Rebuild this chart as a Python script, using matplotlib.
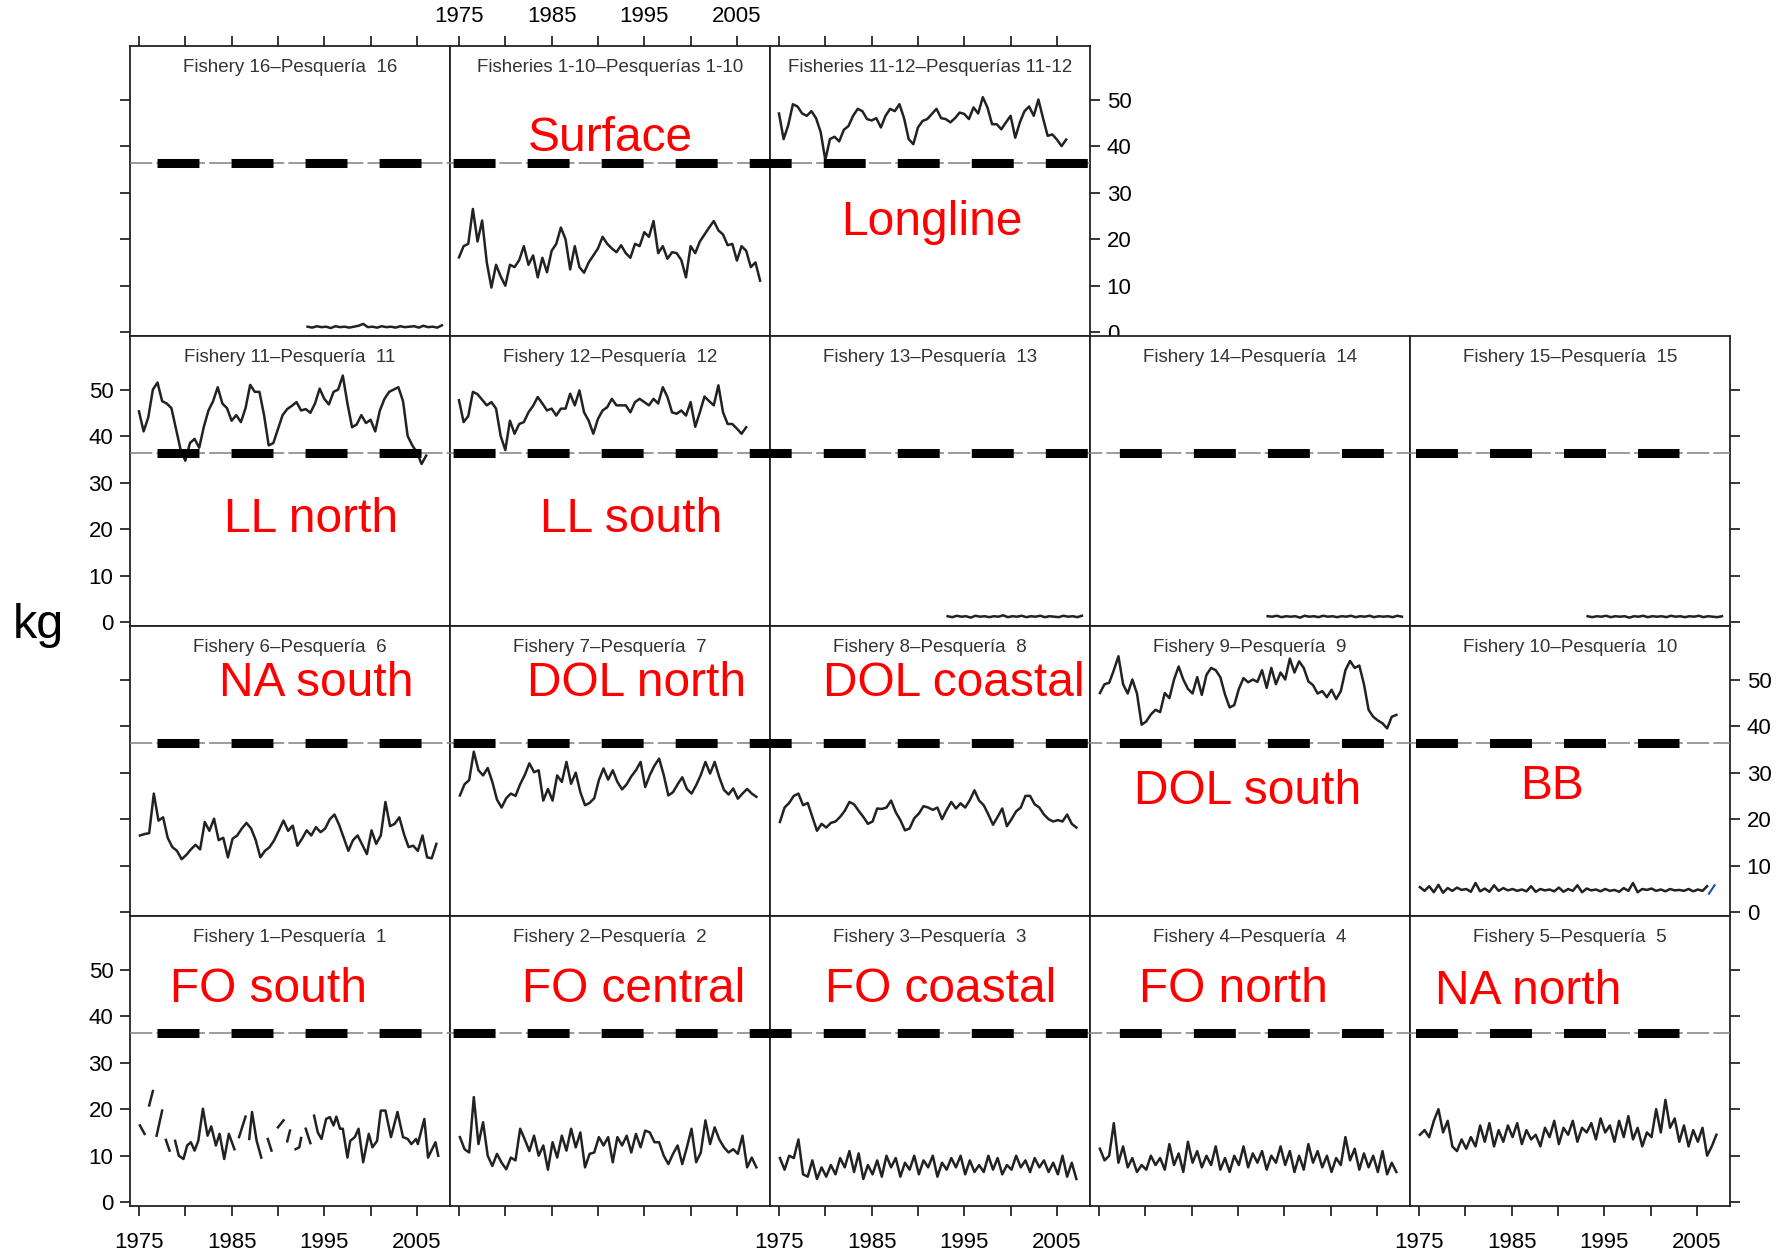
import numpy as np
import matplotlib.pyplot as plt
from matplotlib.lines import Line2D
from matplotlib.transforms import blended_transform_factory

plt.rcParams['font.family'] = ['Liberation Sans', 'DejaVu Sans']
plt.rcParams['lines.scale_dashes'] = False

# ---- datos: peso medio (kg), series semestrales ----
STEP = 0.5
REF_KG = 36.4          # linea de referencia discontinua

f_1_10 = [16.1, 18.5, 19.0, 26.5, 19.5, 24.0, 15.0, 9.6, 14.5, 12.0,
          10.0, 14.5, 14.0, 15.5, 18.5, 14.5, 16.5, 11.8, 16.0, 12.9,
          17.5, 19.0, 22.5, 20.0, 13.5, 18.5, 14.0, 12.8, 15.0, 16.5,
          18.0, 20.5, 19.0, 18.0, 17.2, 18.7, 17.0, 16.0, 19.0, 18.5,
          21.5, 20.5, 23.9, 17.0, 18.5, 15.8, 17.2, 17.0, 15.5, 11.8,
          18.5, 17.0, 19.5, 21.0, 22.5, 23.9, 21.9, 21.0, 18.7, 19.0,
          15.4, 18.5, 17.5, 14.0, 15.0, 11.1]
f_11_12 = [47.0, 41.5, 44.5, 49.0, 48.5, 47.0, 46.5, 47.5, 46.0, 43.0,
           37.0, 41.5, 42.0, 41.0, 43.5, 44.3, 46.5, 48.0, 47.5, 45.8,
           45.5, 46.0, 44.0, 46.5, 48.0, 47.5, 49.0, 46.0, 41.5, 40.4,
           44.0, 45.4, 45.8, 46.9, 48.0, 46.0, 45.8, 45.1, 46.0, 47.2,
           46.9, 45.8, 48.3, 47.0, 50.5, 48.3, 44.7, 44.7, 43.6, 45.1,
           46.5, 41.8, 45.1, 47.5, 48.5, 46.5, 50.0, 46.0, 42.2, 42.5,
           41.4, 40.0, 41.4]
f16 = [1.2, 1.0, 1.3, 1.1, 1.2, 0.9, 1.3, 1.1, 1.2, 1.0, 1.2, 1.4, 1.8, 1.1, 1.2,
       1.0, 1.3, 1.1, 1.2, 1.0, 1.3, 1.1, 1.2, 1.3, 1.0, 1.4, 1.1, 1.2, 1.0, 1.5]

f11 = [45.3, 41.0, 44.0, 50.0, 51.5, 47.5, 47.0, 46.0, 41.5, 37.0,
       34.7, 38.5, 39.4, 37.5, 42.0, 45.5, 47.5, 50.5, 47.0, 46.0,
       43.3, 44.5, 43.0, 46.0, 51.0, 49.5, 49.5, 44.5, 38.0, 38.5,
       41.5, 44.5, 45.8, 46.5, 47.3, 45.5, 45.8, 45.0, 47.0, 50.2,
       48.0, 46.8, 49.5, 50.0, 53.0, 47.0, 41.9, 42.5, 44.5, 42.8,
       43.5, 41.0, 45.5, 48.0, 49.5, 50.0, 50.5, 47.5, 40.0, 38.0,
       36.5, 34.0, 35.8]
f12 = [47.7, 43.0, 44.3, 49.5, 49.0, 47.8, 46.6, 47.3, 45.9, 40.0,
       37.0, 43.3, 40.5, 42.6, 43.0, 45.1, 46.5, 48.4, 47.0, 45.5,
       45.9, 44.4, 45.9, 45.9, 49.1, 46.6, 49.8, 45.1, 43.3, 40.5,
       43.7, 45.5, 46.2, 48.0, 46.6, 46.6, 46.6, 45.1, 47.3, 48.0,
       47.3, 46.6, 48.0, 47.0, 50.5, 48.4, 45.1, 44.8, 45.5, 44.4,
       47.3, 42.0, 45.1, 48.5, 47.5, 46.6, 50.9, 45.1, 42.6, 42.6,
       41.6, 40.5, 41.9]
f13 = [1.3, 1.1, 1.4, 1.2, 1.3, 1.0, 1.4, 1.2, 1.3, 1.1, 1.3, 1.2, 1.5, 1.1, 1.3,
       1.2, 1.4, 1.1, 1.3, 1.2, 1.4, 1.1, 1.3, 1.2, 1.1, 1.4, 1.2, 1.3, 1.1, 1.4]
f14 = [1.3, 1.2, 1.4, 1.1, 1.3, 1.2, 1.3, 1.0, 1.4, 1.2, 1.3, 1.1, 1.4, 1.2, 1.3,
       1.1, 1.3, 1.2, 1.4, 1.1, 1.3, 1.2, 1.4, 1.1, 1.3, 1.2, 1.3, 1.1, 1.4, 1.2]
f15 = [1.3, 1.1, 1.3, 1.2, 1.4, 1.1, 1.3, 1.2, 1.3, 1.0, 1.3, 1.2, 1.4, 1.1, 1.3,
       1.2, 1.3, 1.1, 1.4, 1.2, 1.3, 1.1, 1.3, 1.2, 1.4, 1.1, 1.3, 1.2, 1.1, 1.3]

f6 = [16.5, 16.8, 17.0, 25.5, 19.7, 20.4, 16.0, 14.0, 13.2, 11.4,
      12.3, 13.5, 14.5, 13.5, 19.4, 17.5, 20.1, 15.5, 16.0, 11.8,
      15.8, 16.5, 18.0, 19.2, 18.0, 15.5, 11.8, 13.2, 14.0, 15.5,
      17.6, 19.7, 17.5, 18.6, 14.3, 15.8, 17.6, 16.5, 18.3, 17.2,
      18.0, 20.0, 21.0, 18.8, 16.0, 13.2, 15.5, 16.5, 14.5, 12.5,
      17.6, 14.7, 16.5, 23.7, 18.5, 19.0, 20.4, 16.8, 14.0, 14.3,
      13.2, 16.5, 11.8, 11.6, 14.7]
f7 = [25.1, 27.5, 28.4, 34.5, 30.5, 29.4, 31.0, 28.0, 24.2, 22.5,
      24.5, 25.5, 25.0, 27.5, 29.5, 32.0, 30.1, 30.5, 24.0, 26.5,
      24.0, 29.4, 28.0, 32.3, 27.6, 30.0, 25.8, 23.0, 23.5, 24.5,
      28.4, 30.9, 28.5, 30.5, 28.0, 26.4, 27.5, 29.2, 30.5, 32.3,
      26.9, 29.5, 31.5, 33.0, 29.5, 25.1, 25.8, 27.5, 29.0, 26.5,
      25.5, 27.3, 29.5, 32.3, 29.8, 32.3, 29.0, 26.3, 25.3, 26.6,
      24.4, 25.5, 26.5, 25.5, 24.8]
f8 = [19.4, 22.5, 23.5, 25.0, 25.5, 23.0, 23.5, 20.5, 17.5, 19.0,
      18.2, 19.2, 19.5, 20.5, 21.8, 23.7, 23.2, 21.8, 20.5, 19.0,
      19.5, 22.3, 22.2, 22.5, 24.0, 21.5, 19.8, 17.6, 18.0, 20.2,
      21.2, 22.8, 22.5, 22.0, 22.5, 20.0, 22.0, 23.7, 22.3, 23.4,
      22.5, 24.1, 26.2, 24.0, 23.0, 21.0, 18.8, 20.5, 22.3, 18.5,
      20.0, 21.7, 22.5, 25.0, 25.0, 23.2, 22.5, 21.0, 20.0, 19.5,
      19.8, 19.5, 21.0, 19.0, 18.2]
f9 = [47.1, 49.0, 49.3, 52.0, 55.0, 49.0, 47.0, 50.0, 47.0, 40.3,
      41.0, 42.5, 43.5, 43.0, 47.1, 46.0, 50.0, 52.8, 50.0, 48.0,
      47.0, 50.5, 46.7, 51.0, 52.5, 52.0, 50.5, 46.8, 44.0, 44.5,
      48.0, 50.3, 49.4, 50.0, 49.5, 52.0, 48.2, 52.5, 49.0, 51.5,
      50.0, 54.5, 51.5, 53.9, 52.5, 49.6, 48.8, 47.0, 47.5, 46.2,
      47.8, 45.8, 47.5, 52.0, 54.0, 52.5, 53.0, 49.0, 43.5, 42.0,
      41.2, 40.6, 39.5, 42.0, 42.4]
f10 = [5.4, 4.6, 5.6, 4.3, 5.9, 4.2, 5.2, 4.6, 5.3, 4.8, 5.0, 4.4, 6.3, 4.5, 5.1,
       4.4, 5.8, 4.6, 5.2, 4.7, 5.0, 4.6, 4.9, 4.5, 5.6, 4.4, 5.0, 4.7, 4.9, 4.5,
       5.3, 4.4, 5.0, 4.6, 5.8, 4.3, 5.1, 4.7, 4.9, 4.5, 5.0, 4.6, 4.8, 4.4, 5.2,
       4.6, 6.3, 4.3, 5.0, 4.8, 5.1, 4.6, 4.9, 4.5, 5.0, 4.7, 4.8, 4.6, 5.0, 4.5,
       4.9, 4.6, 5.6]
f10_tail_years = [2006.3, 2006.9]
f10_tail = [4.0, 5.8]

# pesqueria 1 tiene huecos (nan)
f1_years = [1975.1, 1975.6, np.nan, 1976.1, 1976.5, np.nan, 1976.9, 1977.5, np.nan,
            1977.9, 1978.3, np.nan,
            1978.9, 1979.3, 1979.8, 1980.2, 1980.6, 1981.0, 1981.4, 1981.9, 1982.4,
            1982.8, 1983.3, 1983.7, 1984.2, 1984.7, 1985.3, np.nan,
            1985.8, 1986.5, np.nan, 1986.9, 1987.2, 1987.7, 1988.2, np.nan,
            1988.9, 1989.3, np.nan, 1990.0, 1990.6, np.nan, 1991.0, 1991.3, np.nan,
            1991.9, 1992.3, 1992.5, np.nan, 1993.0, 1993.5, np.nan,
            1993.9, 1994.3, 1994.7, 1995.2, 1995.6, 1996.0, 1996.3, 1996.7, 1997.0,
            1997.5, 1997.8, 1998.3, 1998.7, 1999.2, 1999.8, 2000.2, 2000.7, 2001.1,
            2001.6, 2002.2, 2002.9, 2003.5, 2004.0, 2004.4, 2004.9, 2005.1, 2005.8,
            2006.2, 2007.0, 2007.3]
f1 = [16.5, 14.7, np.nan, 20.8, 23.9, np.nan, 14.3, 19.7, np.nan,
      13.4, 11.1, np.nan,
      13.2, 10.0, 9.3, 12.2, 12.9, 11.1, 13.2, 20.1, 14.3,
      16.3, 12.2, 14.7, 9.3, 14.7, 11.4, np.nan,
      14.0, 18.4, np.nan, 13.6, 19.4, 13.2, 9.6, np.nan,
      13.6, 11.1, np.nan, 16.1, 17.6, np.nan, 13.1, 15.4, np.nan,
      11.4, 11.8, 13.8, np.nan, 15.8, 12.7, np.nan,
      18.6, 15.0, 13.6, 17.9, 18.3, 16.5, 18.4, 15.8, 15.8,
      9.6, 13.2, 14.0, 15.8, 8.6, 14.7, 11.8, 13.2, 19.7,
      19.7, 14.0, 19.4, 14.0, 13.6, 12.5, 13.6, 12.5, 17.9,
      9.6, 12.9, 10.0]
f2 = [14.0, 11.4, 10.7, 22.6, 12.5, 17.2, 10.0, 7.8, 10.4, 8.5,
      7.1, 9.6, 9.0, 15.8, 13.5, 11.0, 14.3, 10.0, 12.2, 7.0,
      12.9, 9.6, 14.3, 11.1, 15.8, 11.8, 15.0, 7.5, 10.4, 10.7,
      14.0, 12.2, 14.0, 8.6, 14.0, 12.2, 14.3, 10.7, 14.7, 11.8,
      15.4, 15.0, 12.9, 12.9, 10.0, 8.2, 10.4, 12.2, 8.2, 11.8,
      15.8, 8.6, 10.7, 17.6, 12.5, 16.1, 13.5, 11.8, 10.7, 11.4,
      10.4, 14.3, 7.5, 9.6, 7.5]
f3 = [9.5, 7.0, 10.0, 9.5, 13.5, 6.0, 5.5, 9.0, 5.0, 7.5, 5.5, 8.0, 6.0, 9.5, 7.5,
      11.0, 6.5, 10.5, 5.0, 8.0, 6.0, 9.0, 5.5, 10.0, 7.5, 9.5, 5.5, 8.5, 7.0, 10.0,
      6.0, 9.0, 7.5, 10.0, 5.5, 8.5, 7.0, 9.5, 7.5, 10.0, 6.0, 9.0, 6.5, 8.0, 6.5,
      10.0, 7.0, 9.5, 6.0, 8.0, 7.0, 10.0, 7.5, 9.0, 6.5, 9.5, 7.5, 9.0, 6.5, 8.5,
      6.0, 10.0, 5.5, 8.5, 5.0]
f4 = [11.5, 9.0, 10.0, 17.0, 8.5, 12.0, 7.5, 9.5, 6.5, 8.0, 7.0, 10.0, 8.0, 9.5, 7.0,
      12.5, 8.0, 10.5, 6.5, 13.0, 8.5, 11.0, 7.5, 10.0, 8.0, 12.0, 7.0, 9.5, 6.5, 10.0,
      8.0, 12.0, 7.5, 10.5, 8.5, 11.0, 7.0, 10.0, 8.5, 12.0, 8.0, 11.0, 6.5, 10.0, 7.0,
      12.5, 8.5, 11.0, 7.5, 10.0, 6.5, 9.5, 8.0, 14.0, 9.0, 11.5, 7.0, 10.5, 7.5, 10.0,
      6.5, 11.0, 6.0, 8.5, 6.5]
f5 = [14.5, 15.5, 14.0, 17.5, 20.0, 15.0, 17.5, 12.0, 11.0, 13.5, 11.5, 14.0, 12.0,
      16.5, 13.0, 17.0, 12.0, 15.5, 13.0, 16.5, 14.0, 17.0, 12.5, 15.5, 13.5, 14.5,
      12.0, 16.0, 14.0, 17.5, 12.5, 16.0, 14.5, 17.5, 13.0, 16.0, 15.0, 17.0, 13.5,
      18.0, 15.0, 16.5, 13.0, 17.5, 14.0, 18.5, 13.5, 16.0, 12.0, 15.0, 14.0, 20.0,
      15.0, 22.0, 16.0, 18.0, 13.0, 16.5, 12.0, 15.5, 13.0, 16.0, 10.0, 12.0, 14.5]


def semester(start, vals):
    return start + STEP * np.arange(len(vals)), np.array(vals)


# (fila, columna): titulo, etiqueta roja, posicion etiqueta, series
panels = {
    (0, 0): ('Fishery 16\u2013Pesquería  16', None, None, [semester(1993.2, f16)]),
    (0, 1): ('Fisheries 1-10\u2013Pesquerías 1-10', 'Surface', (0.50, 0.68), [semester(1975.0, f_1_10)]),
    (0, 2): ('Fisheries 11-12\u2013Pesquerías 11-12', 'Longline', (0.506, 0.393), [semester(1975.0, f_11_12)]),
    (1, 0): ('Fishery 11\u2013Pesquería  11', 'LL north', (0.566, 0.366), [semester(1975.0, f11)]),
    (1, 1): ('Fishery 12\u2013Pesquería  12', 'LL south', (0.566, 0.366), [semester(1975.0, f12)]),
    (1, 2): ('Fishery 13\u2013Pesquería  13', None, None, [semester(1993.2, f13)]),
    (1, 3): ('Fishery 14\u2013Pesquería  14', None, None, [semester(1993.2, f14)]),
    (1, 4): ('Fishery 15\u2013Pesquería  15', None, None, [semester(1993.2, f15)]),
    (2, 0): ('Fishery 6\u2013Pesquería  6', 'NA south', (0.581, 0.803), [semester(1975.1, f6)]),
    (2, 1): ('Fishery 7\u2013Pesquería  7', 'DOL north', (0.584, 0.803), [semester(1975.1, f7)]),
    (2, 2): ('Fishery 8\u2013Pesquería  8', 'DOL coastal', (0.575, 0.803), [semester(1975.1, f8)]),
    (2, 3): ('Fishery 9\u2013Pesquería  9', 'DOL south', (0.494, 0.428), [semester(1975.1, f9)]),
    (2, 4): ('Fishery 10\u2013Pesquería  10', 'BB', (0.444, 0.448), [semester(1975.1, f10)]),
    (3, 0): ('Fishery 1\u2013Pesquería  1', 'FO south', (0.434, 0.748),
             [(np.array(f1_years), np.array(f1))]),
    (3, 1): ('Fishery 2\u2013Pesquería  2', 'FO central', (0.575, 0.748), [semester(1975.1, f2)]),
    (3, 2): ('Fishery 3\u2013Pesquería  3', 'FO coastal', (0.534, 0.748), [semester(1975.1, f3)]),
    (3, 3): ('Fishery 4\u2013Pesquería  4', 'FO north', (0.447, 0.748), [semester(1975.1, f4)]),
    (3, 4): ('Fishery 5\u2013Pesquería  5', 'NA north', (0.369, 0.741), [semester(1975.1, f5)]),
}

W, H = 1787, 1256
fig = plt.figure(figsize=(W / 100, H / 100), dpi=100)
gs = fig.add_gridspec(4, 5, left=130 / W, right=1730 / W, top=1 - 46 / H,
                      bottom=1 - 1206 / H, hspace=0, wspace=0)

xticks = [1975, 1980, 1985, 1990, 1995, 2000, 2005]
xlabels = ['1975', '', '1985', '', '1995', '', '2005']
yticks = [0, 10, 20, 30, 40, 50]

axes = {}
for (r, c), (title, label, lpos, series) in panels.items():
    ax = fig.add_subplot(gs[r, c])
    axes[(r, c)] = ax
    for yrs, vals in series:
        ax.plot(yrs, vals, color='#222222', lw=1.8)
    if (r, c) == (2, 4):
        ax.plot(f10_tail_years, f10_tail, color='#2446b8', lw=1.5)
    ax.set_xlim(1974.03, 2008.57)
    ax.set_ylim(-0.8, 61.5)
    ax.set_xticks(xticks)
    ax.set_xticklabels(xlabels)
    ax.set_yticks(yticks)
    for s in ax.spines.values():
        s.set_linewidth(1.3)
        s.set_color('#222222')
    ax.tick_params(which='both', direction='out', length=7, width=1.1,
                   labelsize=16, bottom=False, top=False, left=False, right=False,
                   labelbottom=False, labeltop=False, labelleft=False, labelright=False)
    ax.tick_params(axis='y', pad=5)
    ax.tick_params(axis='x', pad=7)
    ax.text(0.5, 0.925, title, transform=ax.transAxes, ha='center', va='center',
            fontsize=13.5, color='#333333')
    if label:
        ax.text(lpos[0], lpos[1], label, transform=ax.transAxes, ha='center',
                va='center', fontsize=34.5, color='#ff0000', zorder=6)

    # ejes alternados tipo lattice
    if r == 0:
        ax.tick_params(axis='x', top=True, labeltop=(c == 1))
    if r == 3:
        ax.tick_params(axis='x', bottom=True, labelbottom=(c in (0, 2, 4)), pad=12)
    if c == 0:
        ax.tick_params(axis='y', left=True, labelleft=(r in (1, 3)))
    if (r == 0 and c == 2) or c == 4:
        ax.tick_params(axis='y', right=True, labelright=(r in (0, 2)))

# linea de referencia continua a traves de cada fila
for r in range(4):
    ax0 = axes[(r, 0)]
    ncol = 3 if r == 0 else 5
    tr = blended_transform_factory(ax0.transAxes, ax0.transData)
    fig.add_artist(Line2D([0, ncol], [REF_KG, REF_KG], transform=tr,
                          color='#808080', lw=1.1, dashes=(16, 3), zorder=5))
    end = 3.0 if r == 0 else 4.84
    fig.add_artist(Line2D([27 / 320, end], [REF_KG, REF_KG], transform=tr,
                          color='black', lw=6.5, dashes=(30.2, 23.1),
                          dash_capstyle='butt', zorder=6))

fig.text(38 / W, 1 - 625 / H, 'kg', fontsize=35, ha='center', va='center')

fig.savefig('out.png', dpi=100)
